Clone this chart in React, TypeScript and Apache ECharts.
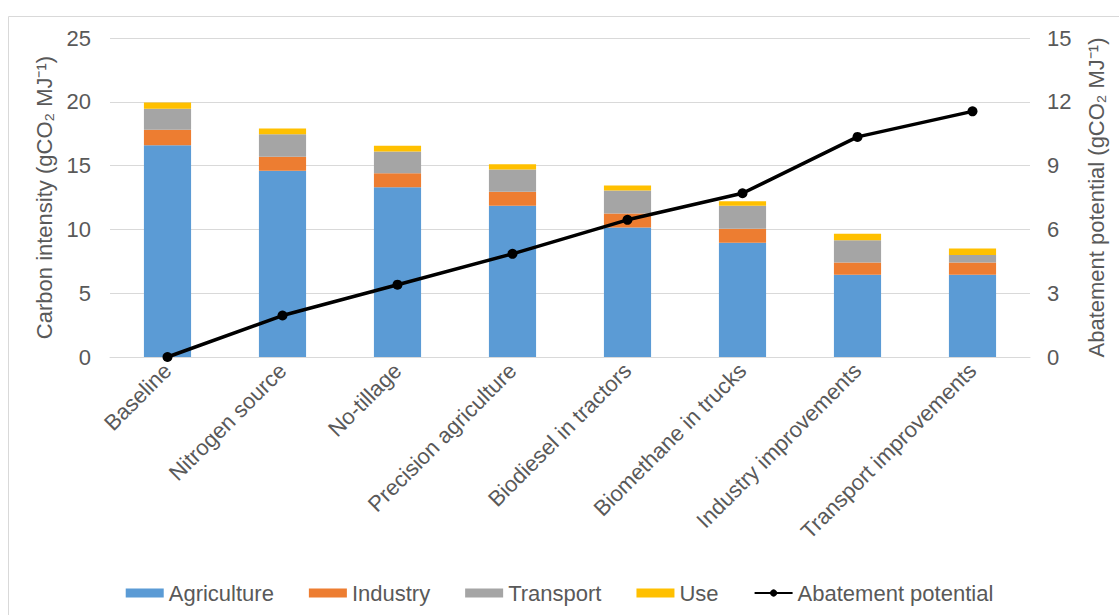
import React, { useEffect, useRef } from "react";
import * as echarts from "echarts";

const categories = [
  "Baseline",
  "Nitrogen source",
  "No-tillage",
  "Precision agriculture",
  "Biodiesel in tractors",
  "Biomethane in trucks",
  "Industry improvements",
  "Transport improvements",
];
const agriculture = [16.6, 14.6, 13.3, 11.85, 10.15, 8.95, 6.45, 6.45];
const industry = [1.2, 1.1, 1.1, 1.1, 1.1, 1.1, 0.95, 0.95];
const transport = [1.65, 1.75, 1.7, 1.75, 1.8, 1.8, 1.75, 0.6];
const use = [0.5, 0.45, 0.45, 0.4, 0.4, 0.35, 0.5, 0.5];
const abatement = [0, 1.95, 3.4, 4.85, 6.45, 7.7, 10.35, 11.55];

const leftTicks = { min: 0, max: 25, interval: 5 };
const rightTicks = { min: 0, max: 15, interval: 3 };

const FONT = "Liberation Sans";
const TXT = "#595959";
const GRID = "#d9d9d9";
const FS = 22;

export default function App() {
  const ref = useRef<HTMLDivElement>(null);
  useEffect(() => {
    if (!ref.current) return;
    const chart = echarts.init(ref.current, undefined, { renderer: "svg" });
    const barSeries = (name: string, data: number[], color: string) => ({
      name,
      type: "bar",
      stack: "total",
      data,
      barWidth: "41%",
      itemStyle: { color },
      yAxisIndex: 0,
    });
    chart.setOption({
      animation: false,
      textStyle: { fontFamily: FONT },
      graphic: [
        {
          type: "rect",
          shape: { x: 8.5, y: 16.5, width: 1200, height: 700 },
          style: { fill: "none", stroke: "#d9d9d9", lineWidth: 1 },
          silent: true,
        },
      ],
      grid: { left: 110, right: 89, top: 38, bottom: 258, containLabel: false },
      legend: {
        bottom: 6,
        left: "center",
        itemWidth: 38,
        itemHeight: 9,
        itemGap: 35,
        textStyle: { fontFamily: FONT, fontSize: FS, color: TXT },
        data: [
          { name: "Agriculture", icon: "rect" },
          { name: "Industry", icon: "rect" },
          { name: "Transport", icon: "rect" },
          { name: "Use", icon: "rect" },
          { name: "Abatement potential" },
        ],
      },
      xAxis: {
        type: "category",
        data: categories,
        axisLine: { lineStyle: { color: GRID, width: 1 } },
        axisTick: { show: false },
        axisLabel: {
          rotate: 45,
          interval: 0,
          fontFamily: FONT,
          fontSize: FS,
          color: TXT,
          margin: 10,
        },
      },
      yAxis: [
        {
          type: "value",
          ...leftTicks,
          name: "Carbon intensity (gCO\u2082 MJ\u207B\u00B9)",
          nameLocation: "middle",
          nameGap: 54,
          nameTextStyle: { fontFamily: FONT, fontSize: FS, color: TXT },
          axisLine: { show: false },
          axisTick: { show: false },
          axisLabel: { fontFamily: FONT, fontSize: FS, color: TXT, margin: 19 },
          splitLine: { lineStyle: { color: GRID, width: 1 } },
        },
        {
          type: "value",
          position: "right",
          ...rightTicks,
          name: "Abatement potential (gCO\u2082 MJ\u207B\u00B9)",
          nameLocation: "middle",
          nameGap: 55,
          nameRotate: 90,
          nameTextStyle: { fontFamily: FONT, fontSize: FS, color: TXT },
          axisLine: { show: false },
          axisTick: { show: false },
          axisLabel: { fontFamily: FONT, fontSize: FS, color: TXT, margin: 17 },
          splitLine: { show: false },
        },
      ],
      series: [
        barSeries("Agriculture", agriculture, "#5b9bd5"),
        barSeries("Industry", industry, "#ed7d31"),
        barSeries("Transport", transport, "#a5a5a5"),
        barSeries("Use", use, "#ffc000"),
        {
          name: "Abatement potential",
          type: "line",
          yAxisIndex: 1,
          data: abatement,
          symbol: "circle",
          symbolSize: 10,
          lineStyle: { color: "#000", width: 3.5 },
          itemStyle: { color: "#000" },
          z: 5,
        },
      ],
    });
    return () => chart.dispose();
  }, []);
  return (
    <div
      ref={ref}
      style={{ position: "fixed", left: 0, top: 0, width: 1119, height: 615, background: "#fff" }}
    />
  );
}
